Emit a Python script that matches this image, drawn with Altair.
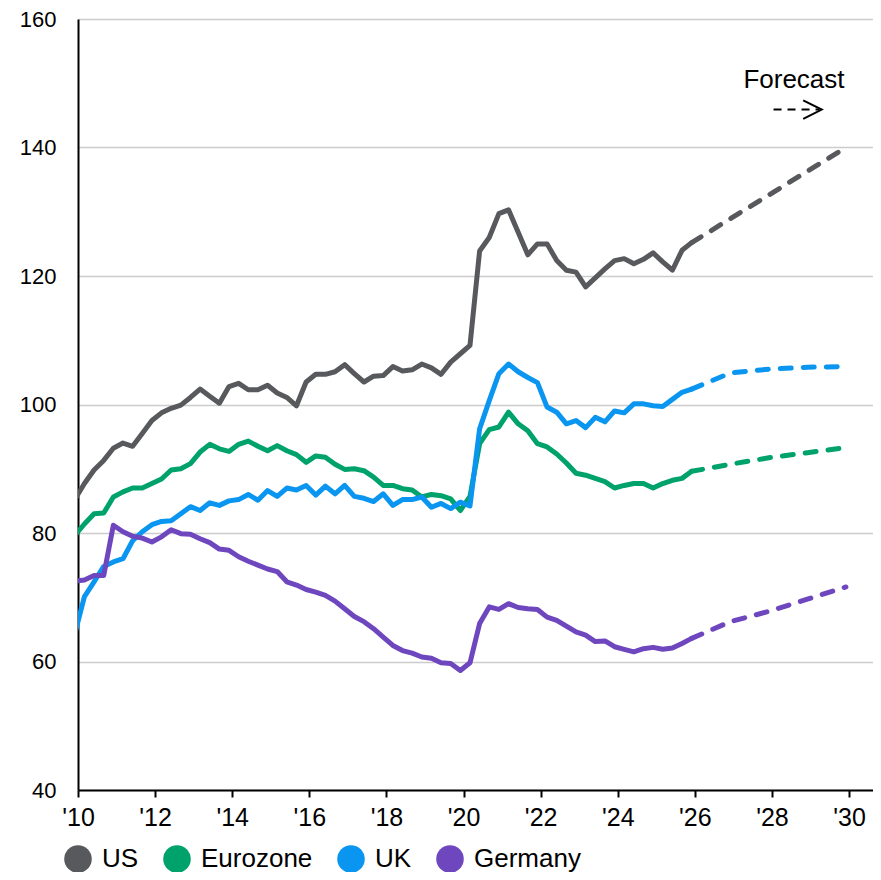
import altair as alt
import pandas as pd

SERIES = ["US", "Eurozone", "UK", "Germany"]
COLORS = ["#57595c", "#00a26b", "#0a96f0", "#6e47bf"]

# Quarterly observations (Dec-2009 ... Dec-2025), index level
US = [85.2, 87.7, 89.8, 91.3, 93.2, 94.0, 93.5, 95.5, 97.5, 98.7, 99.4, 99.9, 101.1,
      102.4, 101.3, 100.2, 102.8, 103.3, 102.3, 102.3, 103.0, 101.8, 101.1, 99.8,
      103.5, 104.7, 104.7, 105.1, 106.2, 104.8, 103.5, 104.4, 104.5, 105.9, 105.2,
      105.4, 106.3, 105.7, 104.7, 106.6, 107.9, 109.2, 123.9, 126.0, 129.7, 130.3,
      126.8, 123.3, 125.0, 125.0, 122.4, 120.9, 120.6, 118.3, 119.7, 121.1, 122.4,
      122.7, 121.9, 122.6, 123.6, 122.2, 120.9, 124.0, 125.2]
EUROZONE = [79.6, 81.4, 83.0, 83.1, 85.6, 86.4, 87.0, 87.0, 87.7, 88.4, 89.8, 90.0, 90.8,
            92.6, 93.8, 93.1, 92.7, 93.8, 94.3, 93.5, 92.8, 93.6, 92.8, 92.2, 91.0,
            92.0, 91.8, 90.7, 89.9, 90.0, 89.7, 88.7, 87.4, 87.4, 86.9, 86.7, 85.6,
            86.0, 85.8, 85.3, 83.5, 85.7, 93.9, 96.1, 96.5, 98.8, 97.0, 95.9, 93.9,
            93.4, 92.3, 90.9, 89.3, 89.0, 88.5, 88.0, 87.0, 87.4, 87.7, 87.7, 87.0,
            87.7, 88.2, 88.5, 89.6]
UK = [64.3, 70.1, 72.4, 74.8, 75.5, 76.0, 78.8, 80.2, 81.3, 81.8, 81.9, 83.0, 84.1,
      83.5, 84.7, 84.3, 85.0, 85.2, 86.0, 85.1, 86.6, 85.7, 87.0, 86.7, 87.4, 85.9,
      87.3, 86.1, 87.4, 85.7, 85.4, 84.9, 86.1, 84.3, 85.2, 85.2, 85.6, 84.0, 84.6,
      83.8, 84.8, 84.2, 96.2, 100.6, 104.8, 106.3, 105.1, 104.2, 103.4, 99.6, 98.8,
      97.0, 97.5, 96.4, 98.0, 97.3, 99.0, 98.7, 100.1, 100.1, 99.8, 99.7, 100.8,
      101.9, 102.4]
GERMANY = [72.5, 72.7, 73.4, 73.4, 81.2, 80.2, 79.5, 79.2, 78.6, 79.4, 80.5, 79.9, 79.8,
           79.1, 78.5, 77.5, 77.3, 76.3, 75.6, 75.0, 74.4, 74.0, 72.4, 71.9, 71.2,
           70.8, 70.3, 69.4, 68.2, 67.0, 66.2, 65.1, 63.8, 62.5, 61.7, 61.3, 60.7,
           60.5, 59.8, 59.7, 58.6, 59.8, 65.9, 68.5, 68.1, 69.0, 68.4, 68.2, 68.1,
           66.9, 66.4, 65.5, 64.6, 64.1, 63.1, 63.2, 62.3, 61.9, 61.5, 62.0, 62.2,
           61.9, 62.1, 62.8, 63.6]

# Forecast (Dec-2025 ... Dec-2029)
FORECAST_T = [2025.917, 2026.917, 2027.917, 2028.917, 2029.917]
US_F = [125.2, 128.9, 132.6, 136.3, 140.0]
EUROZONE_F = [89.6, 90.7, 91.7, 92.5, 93.3]
UK_F = [102.4, 104.9, 105.5, 105.8, 105.9]
GERMANY_F = [63.6, 66.2, 67.8, 69.7, 71.6]

X_TICKS = list(range(2010, 2031, 2))
Y_TICKS = list(range(40, 161, 20))

# annotation
NOTE_TEXT = ["Forecast"]
NOTE_T = [2028.57]
NOTE_V = [149.2]
ARROW_SHAFT = [2028.04, 2029.22]
ARROW_V = 145.9
ARROW_HEAD_T = [2028.81, 2029.29, 2028.81]
ARROW_HEAD_V = [147.35, 145.9, 144.45]

hist_vals = {"US": US, "Eurozone": EUROZONE, "UK": UK, "Germany": GERMANY}
fc_vals = {"US": US_F, "Eurozone": EUROZONE_F, "UK": UK_F, "Germany": GERMANY_F}

hist_rows, fc_rows, last_rows = [], [], []
for s in SERIES:
    vals = hist_vals[s]
    for k, v in enumerate(vals):
        hist_rows.append({"t": 2009 + 11 / 12 + 0.25 * k, "v": v, "series": s})
    for t, v in zip(FORECAST_T, fc_vals[s]):
        fc_rows.append({"t": t, "v": v, "series": s})
    last_rows.append({"t": FORECAST_T[0], "v": fc_vals[s][0], "series": s})

hist_df = pd.DataFrame(hist_rows)
fc_df = pd.DataFrame(fc_rows)
leg_df = pd.DataFrame(last_rows)

FONT = "Liberation Sans"

x_enc = alt.X(
    "t:Q",
    scale=alt.Scale(domain=[2010, 2030.62], nice=False, zero=False),
    axis=alt.Axis(
        values=X_TICKS, title=None, grid=False, domainColor="black", domainWidth=2,
        tickColor="black", tickWidth=2, tickSize=7, labelPadding=8, labelFontSize=25,
        labelFont=FONT, labelColor="black", labelFlush=False, labelOverlap=False,
        labelExpr="\"'\" + substring(toString(datum.value), 2, 4)",
    ),
)
y_enc = alt.Y(
    "v:Q",
    scale=alt.Scale(domain=[40, 160], nice=False, zero=False),
    axis=alt.Axis(
        values=Y_TICKS, title=None, grid=True, gridColor="#cccccc", gridWidth=1.5,
        domainColor="black", domainWidth=2, ticks=False, labelPadding=22,
        labelFontSize=22, labelFont=FONT, labelColor="black",
    ),
)


def cscale():
    return alt.Scale(domain=SERIES, range=COLORS)


hist = alt.Chart(hist_df).mark_line(
    strokeWidth=5, clip=True, strokeJoin="round", strokeCap="round"
).encode(x=x_enc, y=y_enc, color=alt.Color("series:N", scale=cscale(), legend=None))

fc = alt.Chart(fc_df).mark_line(
    strokeWidth=5, clip=True, strokeDash=[11, 12], strokeCap="round"
).encode(x=x_enc, y=y_enc, color=alt.Color("series:N", scale=cscale(), legend=None))

leg = alt.Chart(leg_df).mark_circle(size=0, opacity=1).encode(
    x=x_enc, y=y_enc,
    color=alt.Color(
        "series:N", scale=cscale(),
        legend=alt.Legend(
            title=None, orient="none", legendX=-14, legendY=826, direction="horizontal",
            columns=4, symbolType="circle", symbolSize=760, symbolStrokeWidth=0,
            symbolOpacity=1, labelFontSize=26, labelFont=FONT, labelColor="black",
            labelOffset=10, columnPadding=24, padding=0,
        ),
    ),
)

note_df = pd.DataFrame({"t": NOTE_T, "v": NOTE_V, "label": NOTE_TEXT})
note = alt.Chart(note_df).mark_text(
    fontSize=26, font=FONT, color="black", align="center", baseline="alphabetic"
).encode(x=x_enc, y=y_enc, text="label:N")

shaft_df = pd.DataFrame({"t": [ARROW_SHAFT[0]], "t2": [ARROW_SHAFT[1]], "v": [ARROW_V]})
shaft = alt.Chart(shaft_df).mark_rule(
    color="black", strokeWidth=2, strokeDash=[8, 6]
).encode(x=x_enc, x2="t2:Q", y=y_enc)

head_df = pd.DataFrame({"t": ARROW_HEAD_T, "v": ARROW_HEAD_V, "o": [0, 1, 2]})
head = alt.Chart(head_df).mark_line(color="black", strokeWidth=2).encode(
    x=x_enc, y=y_enc, order="o:Q"
)

chart = (
    alt.layer(hist, fc, leg, note, shaft, head)
    .resolve_scale(color="independent")
    .properties(
        width=795, height=771,
        autosize=alt.AutoSizeParams(type="none"),
        padding={"left": 70, "top": 11, "right": 0, "bottom": 82},
        background="white",
    )
    .configure_view(stroke=None)
)

chart.save("out.html", embed_options={"renderer": "svg", "actions": False})
